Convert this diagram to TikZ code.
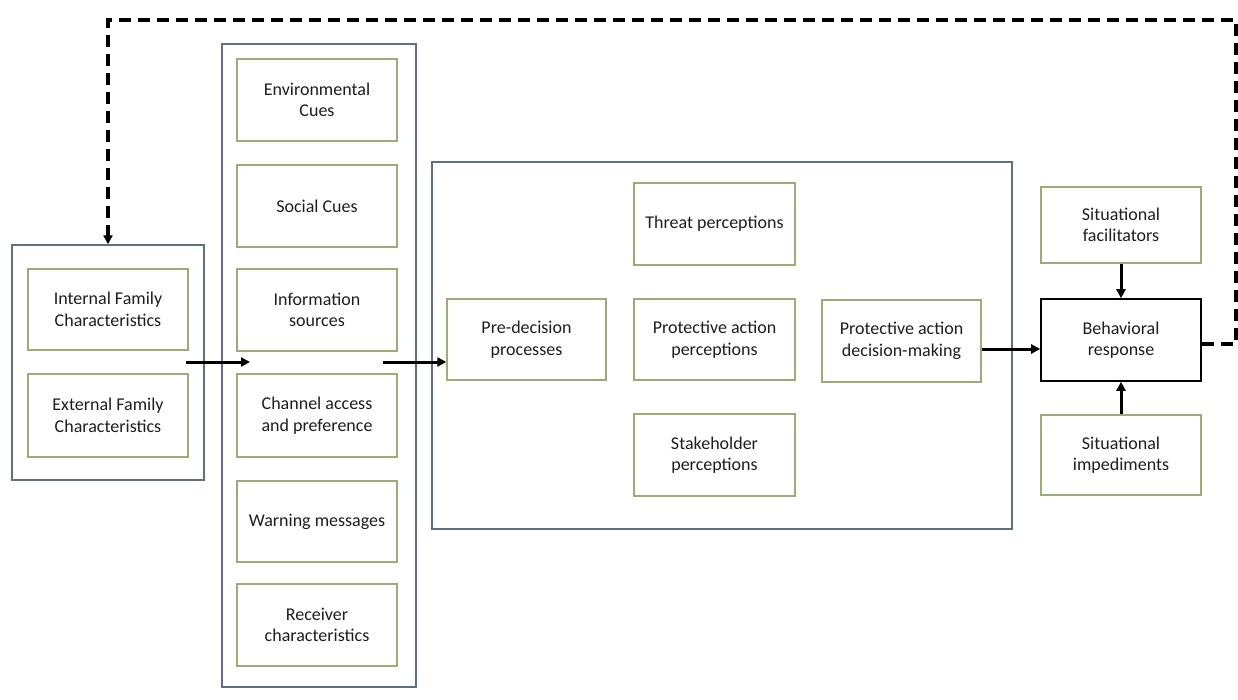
\documentclass[tikz,border=0pt]{standalone}
\usepackage{fontspec}
\setmainfont{Carlito}
\usetikzlibrary{arrows.meta}
\definecolor{obox}{RGB}{95,112,128}
\definecolor{gbox}{RGB}{155,172,118}
\definecolor{txt}{RGB}{30,30,30}
\tikzset{
  outerbox/.style={draw=obox, line width=1.4pt, inner sep=0pt},
  innerbox/.style={draw=gbox, line width=1.4pt, inner sep=0pt, align=center,
    minimum width=160pt, minimum height=82pt, text=txt,
    font=\fontsize{18}{21.5}\selectfont},
  blackbox/.style={innerbox, draw=black, line width=1.6pt},
  flow/.style={line width=3pt, -{Triangle[length=9pt,width=9pt]}},
  feedback/.style={line width=3.4pt, dash pattern=on 12pt off 7pt,
    -{Triangle[length=9pt,width=9pt]}}
}
\begin{document}
\begin{tikzpicture}[x=1pt,y=-1pt]
\useasboundingbox[fill=white] (0,0) rectangle (1238,700);
% outer boxes
\node[outerbox, minimum width=192pt, minimum height=235pt] (famgroup) at (108,362.5) {};
\node[outerbox, minimum width=194pt, minimum height=643pt] (cuegroup) at (319,365.5) {};
\node[outerbox, minimum width=580pt, minimum height=367pt] (decgroup) at (722,345.5) {};
% family
\node[innerbox, minimum height=81pt] (internal) at (108,309.5) {Internal Family\\Characteristics};
\node[innerbox, minimum height=83pt] (external) at (108,415.5) {External Family\\Characteristics};
% cues
\node[innerbox] (env) at (317,100) {Environmental\\Cues};
\node[innerbox] (social) at (317,206) {Social Cues};
\node[innerbox] (info) at (317,310) {Information\\sources};
\node[innerbox, minimum height=83pt] (channel) at (317,415.5) {Channel access\\and preference};
\node[innerbox, minimum height=81pt] (warning) at (317,521.5) {Warning messages};
\node[innerbox] (receiver) at (317,625) {Receiver\\characteristics};
% decision
\node[innerbox, minimum width=159pt, minimum height=81pt] (pre) at (526.5,339.5) {Pre-decision\\processes};
\node[innerbox, minimum width=161pt] (threat) at (714.5,224) {Threat perceptions};
\node[innerbox, minimum width=161pt, minimum height=81pt] (pap) at (714.5,339.5) {Protective action\\perceptions};
\node[innerbox, minimum width=161pt] (stake) at (714.5,455) {Stakeholder\\perceptions};
\node[innerbox, minimum width=159pt] (pad) at (901.5,341) {Protective action\\decision-making};
% response
\node[innerbox, minimum height=76pt] (facil) at (1121,225) {Situational\\facilitators};
\node[blackbox] (behav) at (1121,340) {Behavioral\\response};
\node[innerbox, minimum height=80pt] (imped) at (1121,455) {Situational\\impediments};
% connectors
\coordinate (a1s) at (186,362);
\coordinate (a1e) at (250,362);
\coordinate (a2s) at (383,362);
\coordinate (a3y) at (0,349);
\draw[flow] (a1s) -- (a1e);
\draw[flow] (a2s) -- (pre.west |- a2s);
\draw[flow] (pad.east |- a3y) -- (behav.west |- a3y);
\draw[flow] (facil.south) -- (behav.north);
\draw[flow] (imped.north) -- (behav.south);
\coordinate (fbr) at (1236,344);
\coordinate (fbt) at (1236,20);
\coordinate (fbl) at (108,20);
\draw[feedback] (behav.east |- fbr) -- (fbr) -- (fbt) -- (fbl) -- (famgroup.north);
\end{tikzpicture}
\end{document}
